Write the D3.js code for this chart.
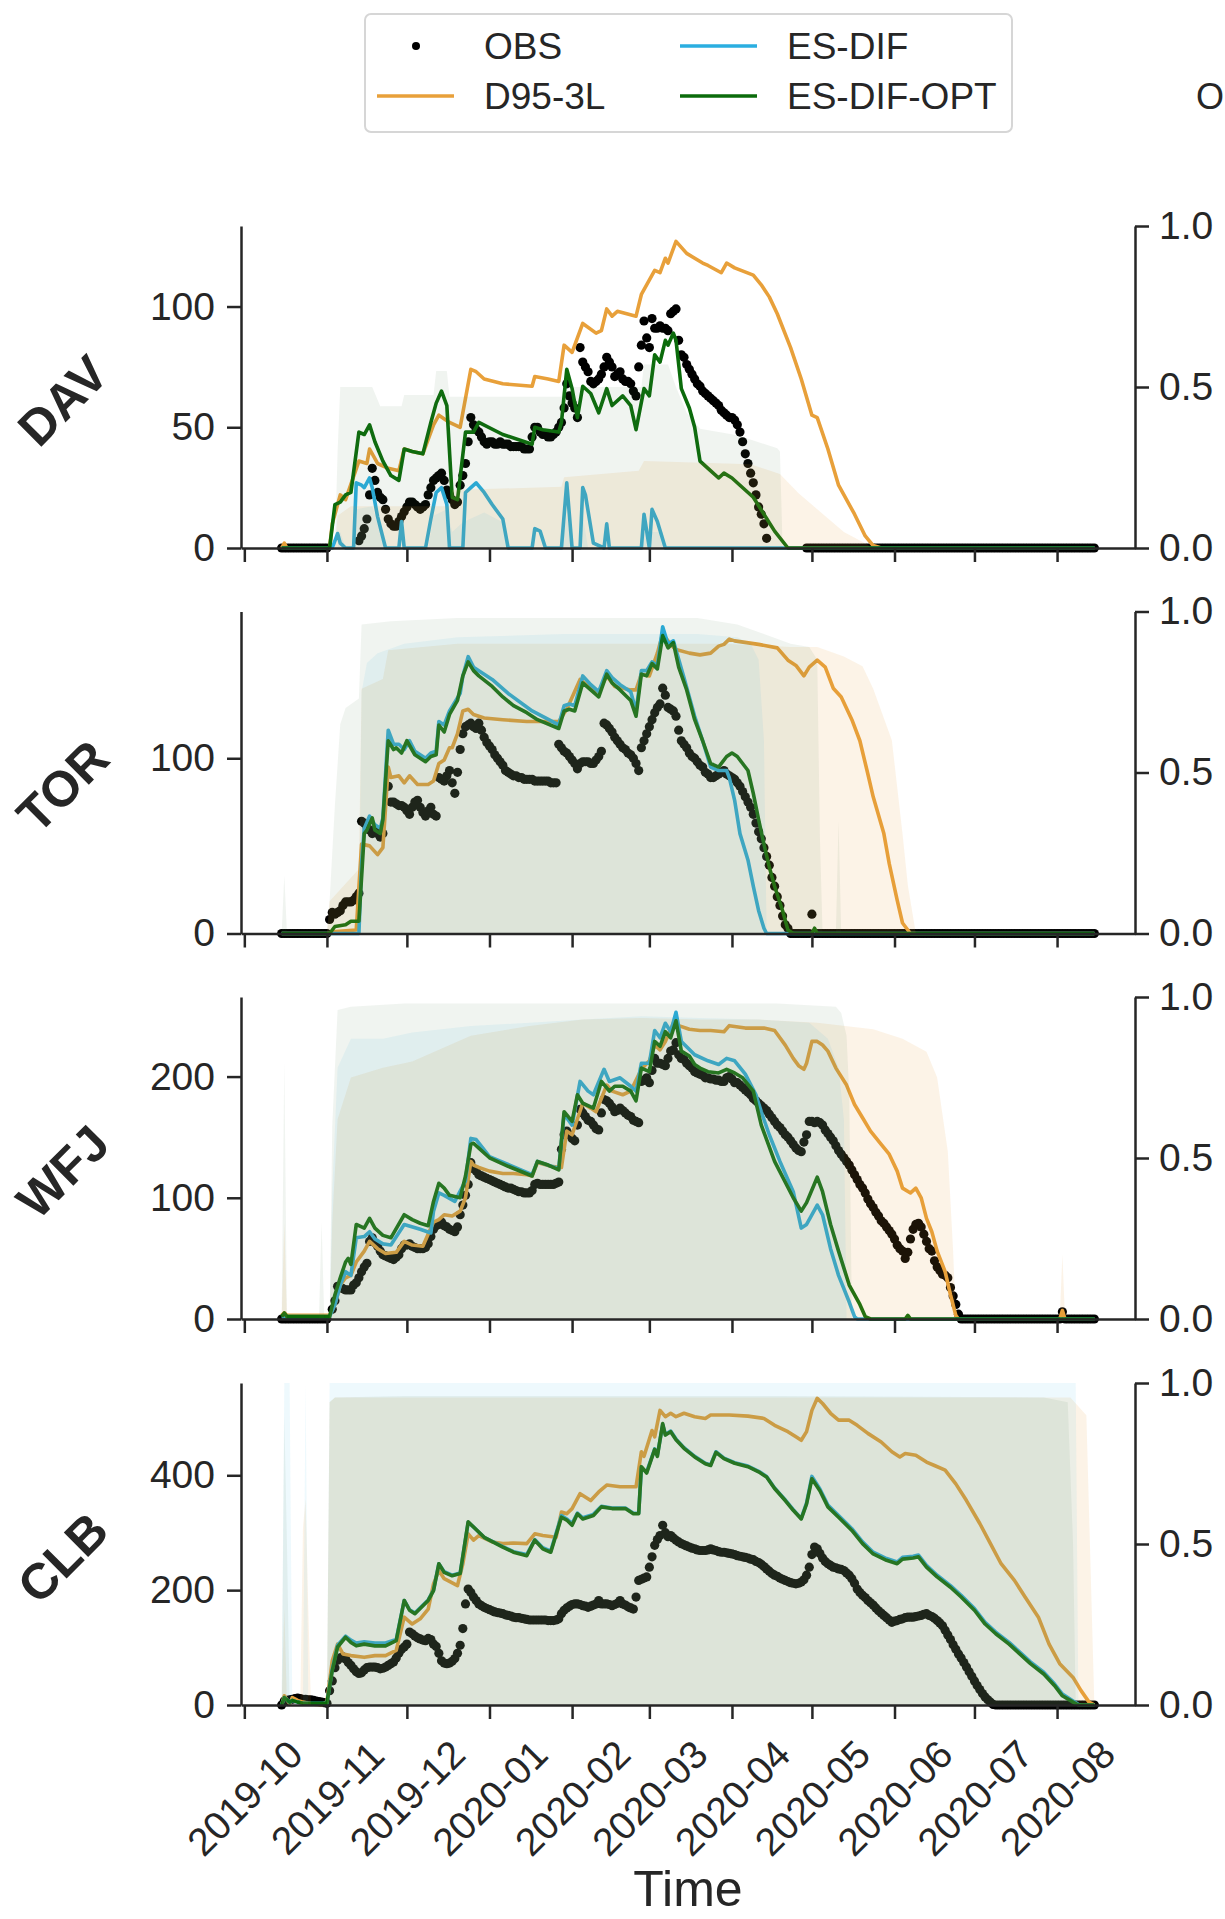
<!DOCTYPE html>
<html>
<head>
<meta charset="utf-8">
<script src="https://cdn.jsdelivr.net/npm/d3@7"></script>
<style>
  body { margin: 0; background: #fff; }
  text { font-family: "Liberation Sans", Arial, Helvetica, sans-serif; fill: #262626; }
</style>
</head>
<body>
<svg id="chart"></svg>
<script>
// ---- data (days counted from 2019-10-01) ----
const MONTHS = ["2019-10", "2019-11", "2019-12", "2020-01", "2020-02", "2020-03",
                "2020-04", "2020-05", "2020-06", "2020-07", "2020-08"];
const STATIONS = ["DAV", "TOR", "WFJ", "CLB"];
const Y_TICKS = [[0, 50, 100], [0, 100], [0, 100, 200], [0, 200, 400]];
const FRAC_TICKS = [0, 0.5, 1];
const OBS_START = 14;   // first observation day (2019-10-15)

// DAV
const DAV_OBS = [
  0,0,0,0,0,0,0,0,0,0,0,0,0,0,0,0,0,0,
  null,null,null,null,null,null,null,null,null,null,null,
  3,5,8,12,22,33,28,23,21,20,16,12,10,9,9,11,13,15,17,19,
  19,18,17,16,17,18,22,25,28,29,30,31,28,24,22,20,18,19,26,30,
  35,44,54,51,49,48,46,44,43,44,44,43,43,44,43,43,43,42,42,42,
  42,42,41,41,41,46,50,50,48,47,47,46,46,47,48,50,52,58,68,63,
  60,58,54,83,77,75,73,69,68,69,70,72,75,79,77,75,71,72,73,70,
  69,69,68,65,63,75,84,94,87,83,95,91,91,92,91,91,90,97,98,99,
  86,80,79,76,74,72,70,68,67,65,64,63,62,61,60,59,57,56,55,54,
  54,53,51,48,44,39,35,31,27,22,17,14,10,4,
  null,null,null,null,null,null,null,null,null,null,null,null,null,null,
  0,0,0,0,0,0,0,0,0,0,0,0,0,0,0,0,0,0,0,0,0,0,0,0,0,0,0,0,0,0,
  0,0,0,0,0,0,0,0,0,0,0,0,0,0,0,0,0,0,0,0,0,0,0,0,0,0,0,0,0,0,
  0,0,0,0,0,0,0,0,0,0,0,0,0,0,0,0,0,0,0,0,0,0,0,0,0,0,0,0,0,0,
  0,0,0,0,0,0,0,0,0,0,0,0,0,0,0,0,0,0,0
];
const DAV_D95 = [[14,0],[15,2],[16,0],[32,0],[33,10],[35,18],[36,22],[38,20],[43,36],[46,35],[47,41],[50,35],[54,33],[58,32],[60,41],[63,40],[67,39],[71,51],[73,55],[77,52],[81,50],[85,74],[87,73],[90,70],[97,68],[108,67],[109,71],[114,70],[118,69],[120,84],[123,81],[127,93],[132,89],[134,90],[136,99],[138,96],[140,98],[147,96],[149,105],[154,115],[156,114],[158,120],[159,118],[162,127],[166,122],[172,118],[174,117],[179,114],[181,118],[184,116],[191,113],[194,109],[197,104],[200,97],[205,83],[209,70],[213,55],[215,54],[219,41],[223,26],[229,14],[233,5],[236,1],[239,0],[319,0]];
const DAV_ESDIF = [[14,0],[33,0],[35,6],[36,2],[38,0],[41,0],[42,27],[44,26],[45,25],[47,29],[48,25],[50,13],[53,0],[58,0],[59,11],[60,0],[68,0],[70,12],[72,23],[74,25],[76,18],[77,0],[82,0],[83,23],[85,25],[87,27],[90,23],[93,18],[97,12],[99,0],[108,0],[109,8],[111,7],[113,0],[119,0],[121,27],[123,0],[126,0],[127,25],[128,22],[131,2],[135,0],[136,10],[137,0],[149,0],[150,14],[152,0],[153,16],[155,11],[158,0],[319,0]];
const DAV_OPT = [[14,0],[32,0],[34,18],[36,19],[38,22],[40,23],[43,48],[45,47],[47,51],[49,44],[52,36],[55,30],[58,28],[60,41],[63,40],[67,39],[70,52],[72,60],[74,65],[76,59],[78,21],[80,20],[83,48],[86,48],[88,52],[97,47],[108,43],[109,50],[112,49],[118,48],[119,52],[121,74],[123,66],[125,54],[127,67],[130,64],[133,56],[136,66],[138,59],[142,63],[145,59],[147,49],[150,66],[152,63],[154,80],[156,77],[158,86],[159,84],[161,89],[162,86],[164,66],[167,58],[169,50],[171,36],[174,33],[178,29],[180,31],[183,29],[186,26],[191,21],[195,14],[199,7],[204,0],[319,0]];
const DAV_FILL_D95 = [[14,0],[34,0],[35,0.1],[40,0.13],[77,0.13],[78,0.18],[119,0.19],[120,0.22],[148,0.24],[150,0.27],[190,0.26],[201,0.23],[208,0.17],[215,0.12],[225,0.05],[234,0.01],[235,0],[319,0]];
const DAV_FILL_ESDIF = [[14,0],[35,0],[36,0.05],[38,0],[41,0],[42,0.12],[48,0.13],[51,0.05],[53,0],[69,0],[71,0.1],[76,0.12],[78,0.05],[82,0.08],[90,0.11],[97,0.08],[100,0],[119,0],[121,0.1],[123,0],[126,0],[127,0.1],[129,0],[149,0],[150,0.05],[157,0.05],[158,0],[319,0]];
const DAV_FILL_OPT = [[14,0],[34,0],[35,0.3],[36,0.5],[48,0.5],[51,0.44],[59,0.44],[60,0.475],[71,0.475],[72,0.55],[76,0.55],[77,0.47],[119,0.47],[120,0.5],[149,0.5],[150,0.57],[159,0.57],[162,0.5],[166,0.42],[171,0.37],[185,0.35],[200,0.31],[201,0.3],[202,0],[319,0]];

// TOR
const TOR_OBS = [
  0,0,0,0,0,0,0,0,0,0,0,0,0,0,0,0,0,0,
  8,12,11,12,13,16,18,18,18,19,21,23,64,63,61,59,57,59,57,55,57,
  null,
  84,75,75,74,73,73,72,70,68,72,75,76,72,69,67,70,72,68,67,89,
  88,87,90,93,86,80,92,105,114,118,119,120,118,117,120,116,112,109,107,105,
  102,100,98,96,93,92,91,90,90,89,89,88,88,88,88,87,87,87,87,87,
  87,86,86,86,
  108,106,104,103,101,99,97,94,97,98,98,98,97,97,99,101,104,120,119,117,
  115,112,110,108,106,105,103,102,100,97,93,106,110,114,118,122,126,129,131,140,
  136,129,128,127,124,116,110,108,106,103,101,100,98,96,95,92,91,89,89,90,
  91,92,93,91,90,89,88,86,84,81,78,75,72,68,63,58,54,49,44,39,
  32,27,21,16,10,5,3,
  0,0,0,0,0,0,0,0,
  11,
  0,0,0,0,0,0,0,0,0,0,0,0,0,0,0,0,0,0,0,0,0,0,0,0,0,0,0,0,0,0,
  0,0,0,0,0,0,0,0,0,0,0,0,0,0,0,0,0,0,0,0,0,0,0,0,0,0,0,0,0,0,
  0,0,0,0,0,0,0,0,0,0,0,0,0,0,0,0,0,0,0,0,0,0,0,0,0,0,0,0,0,0,
  0,0,0,0,0,0,0,0,0,0,0,0,0,0,0,0
];
const TOR_D95 = [[14,0],[32,0],[33,1],[42,2],[44,51],[47,50],[50,45],[52,49],[54,95],[55,89],[58,90],[60,86],[62,90],[65,85],[69,85],[71,87],[73,97],[75,99],[77,106],[78,106],[80,114],[82,127],[84,128],[86,125],[90,123],[97,122],[106,121],[118,121],[121,128],[126,145],[130,140],[133,138],[136,147],[139,141],[145,139],[147,139],[149,148],[152,147],[155,160],[157,171],[160,165],[162,162],[167,160],[171,159],[175,160],[178,164],[180,165],[182,168],[184,167],[193,165],[200,163],[204,156],[207,153],[210,147],[212,152],[215,156],[218,152],[221,140],[224,135],[228,122],[231,110],[234,91],[236,78],[240,57],[242,40],[245,19],[247,6],[250,0],[319,0]];
const TOR_ESDIF = [[14,0],[43,0],[44,40],[45,60],[47,67],[49,62],[51,60],[52,66],[54,116],[56,108],[58,108],[60,105],[62,110],[64,104],[68,100],[70,103],[72,104],[73,121],[75,119],[77,127],[81,137],[82,147],[84,158],[86,152],[93,145],[99,137],[108,127],[118,119],[120,130],[122,131],[124,130],[127,147],[130,142],[133,138],[136,150],[138,146],[141,142],[145,138],[147,127],[149,150],[151,150],[153,155],[155,153],[157,175],[159,165],[161,167],[165,146],[169,124],[172,110],[175,95],[178,93],[181,93],[182,89],[184,76],[186,57],[189,42],[191,27],[193,13],[195,3],[196,0],[319,0]];
const TOR_OPT = [[14,0],[32,0],[33,2],[34,4],[38,5],[40,7],[43,7],[45,57],[46,59],[48,66],[49,59],[51,57],[52,65],[54,110],[56,105],[57,106],[59,103],[61,110],[64,102],[68,98],[70,101],[72,102],[73,119],[75,115],[77,125],[80,133],[82,147],[84,155],[86,150],[88,147],[93,141],[97,135],[101,130],[106,126],[110,122],[118,117],[120,127],[122,128],[124,127],[127,143],[130,139],[133,135],[136,148],[138,143],[141,139],[143,136],[145,133],[147,124],[149,148],[151,147],[153,154],[155,151],[157,170],[159,163],[161,166],[163,152],[166,139],[169,122],[172,110],[175,97],[178,95],[181,101],[183,103],[185,101],[187,97],[189,93],[191,80],[193,65],[195,51],[197,38],[199,27],[202,13],[204,2],[206,0],[213,0],[214,3],[215,0],[319,0]];
const TOR_FILL_D95 = [[14,0],[31,0],[32,0.1],[43,0.2],[44,0.76],[52,0.79],[54,0.88],[80,0.9],[120,0.9],[180,0.9],[205,0.89],[215,0.89],[225,0.86],[232,0.83],[236,0.76],[243,0.6],[247,0.31],[249,0.15],[252,0],[319,0]];
const TOR_FILL_ESDIF = [[14,0],[43,0],[44,0.75],[46,0.84],[50,0.87],[60,0.9],[80,0.92],[120,0.93],[170,0.93],[185,0.92],[190,0.9],[193,0.85],[195,0.6],[196,0],[319,0]];
const TOR_FILL_OPT = [[14,0],[15,0.18],[16,0],[31,0],[32,0.1],[34,0.4],[36,0.65],[38,0.7],[43,0.73],[44,0.96],[55,0.97],[80,0.98],[170,0.98],[185,0.96],[195,0.93],[205,0.9],[212,0.89],[215,0.85],[216,0.3],[217,0],[222,0],[223,0.35],[224,0],[319,0]];

// WFJ
const WFJ_OBS = [
  0,0,0,0,0,0,0,0,0,0,0,0,0,0,0,0,0,0,
  null,
  8,15,27,26,25,24,24,24,28,30,34,39,43,46,
  64,67,63,60,56,53,52,51,50,49,51,53,58,61,61,62,60,59,58,58,
  58,59,62,68,74,77,78,80,77,76,74,73,72,76,86,94,102,111,129,124,
  122,119,118,117,116,115,114,113,112,111,110,109,108,108,107,106,105,105,104,104,
  104,106,111,112,111,111,111,111,111,111,112,113,
  140,152,155,152,149,147,160,173,170,167,164,163,160,157,156,170,181,180,178,175,
  171,172,174,172,170,168,167,164,163,162,196,197,199,195,205,215,211,211,210,209,
  215,221,222,228,218,215,214,211,209,207,204,203,202,201,199,199,198,198,197,197,
  196,196,199,200,198,195,195,193,191,189,187,185,182,180,178,176,174,172,169,166,
  163,160,158,155,152,150,147,144,141,139,138,146,152,163,163,162,163,162,160,156,
  153,150,147,143,139,136,133,130,127,123,119,115,111,108,104,99,95,92,88,85,
  81,79,76,73,70,66,61,58,56,50,55,66,74,78,79,76,70,64,58,56,
  48,43,40,37,36,34,26,19,12,4,
  0,0,0,0,0,0,0,0,0,0,0,0,0,0,0,0,0,0,0,0,0,0,0,0,0,0,0,0,0,0,0,0,0,0,0,0,0,0,
  6,
  0,0,0,0,0,0,0,0,0,0,0,0
];
const WFJ_D95 = [[14,3],[15,5],[16,3],[32,3],[34,12],[36,28],[38,34],[40,36],[42,47],[45,56],[47,64],[50,58],[53,54],[57,55],[60,64],[63,61],[67,60],[71,80],[73,82],[75,86],[78,85],[81,89],[83,100],[85,130],[86,127],[88,125],[92,122],[97,120],[101,120],[106,119],[108,118],[110,129],[115,126],[119,125],[121,155],[123,152],[127,178],[130,174],[132,171],[136,193],[138,188],[142,185],[145,188],[149,206],[152,213],[154,226],[156,222],[158,229],[161,244],[163,242],[167,239],[171,238],[175,238],[180,237],[182,242],[188,240],[195,240],[199,238],[203,226],[206,215],[208,209],[210,206],[211,211],[213,229],[215,229],[217,226],[219,221],[222,207],[226,193],[229,177],[232,166],[235,155],[239,144],[242,136],[245,122],[247,108],[250,104],[252,108],[254,100],[256,83],[258,72],[260,56],[263,39],[265,20],[267,3],[268,0],[306,0],[307,7],[308,0],[319,0]];
const WFJ_ESDIF = [[14,2],[32,2],[34,12],[36,28],[38,39],[40,36],[42,67],[45,68],[47,72],[49,66],[52,62],[55,61],[60,78],[66,74],[70,71],[71,89],[73,104],[75,102],[79,97],[83,114],[85,149],[87,148],[92,134],[108,119],[110,130],[118,124],[120,169],[123,160],[126,196],[129,188],[131,185],[135,206],[137,196],[141,199],[145,192],[147,188],[149,211],[152,211],[154,238],[156,232],[158,244],[160,237],[162,253],[164,229],[169,218],[174,213],[178,210],[181,215],[184,213],[188,202],[192,185],[194,171],[197,152],[201,130],[206,105],[209,75],[211,78],[215,94],[217,86],[220,58],[223,36],[227,14],[229,2],[230,0],[319,0]];
const WFJ_OPT = [[14,2],[15,5],[16,2],[32,2],[34,20],[36,34],[38,47],[39,50],[40,45],[42,78],[45,75],[47,83],[49,75],[52,69],[55,67],[60,86],[63,82],[66,79],[69,77],[71,97],[73,112],[75,108],[77,102],[81,100],[83,118],[85,144],[86,145],[88,141],[92,133],[99,126],[108,118],[110,130],[114,127],[118,123],[120,171],[123,163],[125,185],[127,178],[131,174],[134,196],[137,188],[139,192],[142,192],[145,188],[147,180],[149,207],[152,204],[154,229],[156,225],[158,237],[160,232],[162,246],[164,221],[167,217],[169,210],[171,207],[174,204],[178,203],[181,206],[184,203],[187,199],[191,188],[194,160],[199,130],[206,100],[209,89],[211,96],[215,117],[217,105],[220,78],[223,56],[227,28],[231,12],[233,2],[235,0],[248,0],[249,3],[250,0],[319,0]];
const WFJ_FILL_D95 = [[14,0],[15,0.3],[16,0],[32,0],[33,0.3],[35,0.62],[40,0.75],[52,0.78],[63,0.8],[85,0.88],[107,0.91],[127,0.93],[149,0.935],[171,0.93],[193,0.93],[215,0.92],[236,0.9],[247,0.87],[256,0.83],[260,0.75],[264,0.52],[266,0.21],[267,0],[306,0],[307,0.2],[308,0],[319,0]];
const WFJ_FILL_ESDIF = [[14,0],[32,0],[33,0.4],[35,0.78],[40,0.87],[52,0.87],[63,0.89],[85,0.91],[107,0.92],[127,0.93],[149,0.94],[171,0.935],[193,0.93],[212,0.92],[219,0.87],[223,0.78],[225,0.62],[226,0],[319,0]];
const WFJ_FILL_OPT = [[14,0],[15,0.8],[16,0],[28,0],[29,0.3],[30,0],[32,0],[33,0.6],[35,0.96],[40,0.97],[60,0.98],[200,0.98],[222,0.97],[224,0.95],[226,0.88],[227,0.7],[228,0],[319,0]];

// CLB
const CLB_OBS = [
  0,7,8,9,10,11,12,11,10,10,9,9,8,7,6,5,4,3,
  25,42,65,78,82,84,80,74,69,63,58,55,56,61,65,66,66,66,65,63,
  64,66,69,72,75,82,90,97,101,106,127,124,120,117,115,113,112,116,114,106,
  102,90,77,73,72,73,76,81,90,104,
  133,176,202,196,188,182,176,173,170,168,166,164,162,161,160,159,157,156,155,153,
  152,152,151,150,149,148,148,148,148,148,148,148,
  147,147,147,148,150,159,165,169,172,175,176,176,175,173,172,170,172,174,176,182,
  176,176,176,175,173,175,177,182,176,174,171,169,167,
  188,217,219,221,223,240,258,278,288,295,313,300,293,295,291,287,284,281,279,277,
  275,273,272,270,269,269,269,270,272,270,269,267,266,266,265,264,263,262,260,259,
  258,257,256,254,253,250,248,245,241,237,233,229,226,224,221,219,217,215,213,212,
  211,212,214,218,226,240,262,275,272,264,256,250,246,243,240,239,237,236,234,230,
  226,220,212,202,196,191,187,182,178,174,169,164,160,156,152,148,144,146,147,149,
  150,152,153,153,153,154,155,156,158,159,156,154,151,147,143,138,130,122,114,105,
  97,89,82,74,66,58,50,42,34,27,20,14,9,5,1,
  0,0,0,0,0,0,0,0,0,0,0,0,0,0,0,0,0,0,0,0,0,0,0,0,0,0,0,0,0,0,0,0,0,0,0,0,0,0
];
const CLB_D95 = [[14,0],[15,16],[17,2],[18,13],[20,8],[22,5],[25,2],[29,0],[31,6],[33,77],[35,106],[37,89],[40,86],[45,83],[49,86],[53,86],[57,95],[60,153],[63,141],[66,150],[69,167],[71,211],[73,234],[75,220],[80,208],[82,246],[84,298],[86,287],[88,295],[93,284],[97,281],[101,282],[106,281],[109,298],[112,295],[117,292],[119,336],[121,333],[123,342],[126,368],[130,356],[133,371],[136,383],[141,380],[147,380],[149,441],[150,433],[153,478],[154,467],[156,513],[158,502],[160,508],[162,502],[165,508],[169,502],[173,499],[175,505],[182,505],[189,503],[195,499],[199,487],[204,476],[207,467],[209,461],[211,476],[213,513],[215,534],[217,525],[220,508],[223,496],[227,496],[230,487],[234,473],[239,458],[243,441],[246,432],[248,438],[252,435],[256,423],[259,417],[263,409],[267,385],[271,356],[276,316],[280,281],[284,246],[289,217],[293,188],[298,153],[302,106],[306,72],[311,48],[314,25],[317,5],[319,0]];
const CLB_ESDIF = [[14,0],[15,13],[17,5],[18,8],[20,5],[22,3],[31,3],[33,62],[35,104],[38,120],[40,113],[42,108],[45,110],[49,108],[53,108],[57,114],[60,182],[62,166],[64,160],[69,183],[71,200],[73,246],[75,232],[78,226],[81,230],[84,318],[86,310],[90,292],[97,276],[101,267],[106,262],[109,288],[112,274],[115,268],[119,330],[121,324],[123,316],[125,334],[127,326],[131,332],[134,346],[138,343],[143,343],[146,334],[148,334],[149,412],[151,406],[154,446],[155,435],[157,488],[158,471],[160,477],[162,463],[165,448],[169,433],[173,421],[175,418],[177,441],[180,430],[184,422],[189,416],[193,407],[196,398],[199,378],[203,357],[206,340],[209,325],[211,352],[213,398],[216,376],[219,348],[223,330],[228,307],[232,284],[236,266],[241,255],[245,249],[247,257],[251,259],[253,261],[256,243],[260,226],[265,208],[269,191],[274,168],[278,144],[282,127],[287,109],[291,92],[295,75],[300,57],[304,37],[307,19],[311,7],[313,1],[314,0],[319,0]];
const CLB_OPT = [[14,0],[15,13],[17,5],[18,8],[20,5],[22,3],[31,3],[33,60],[35,101],[38,118],[40,109],[42,103],[45,106],[49,103],[53,103],[57,112],[60,182],[62,165],[64,159],[69,182],[71,199],[73,246],[75,231],[78,225],[81,229],[84,319],[86,310],[90,292],[97,275],[101,266],[106,260],[109,287],[112,272],[115,266],[119,327],[121,322],[123,313],[125,333],[127,324],[131,330],[134,345],[138,342],[143,342],[146,333],[148,333],[149,415],[151,404],[154,445],[155,433],[157,490],[158,470],[160,476],[162,462],[165,447],[169,432],[173,420],[175,417],[177,440],[180,429],[184,421],[189,415],[193,406],[196,397],[199,377],[203,356],[206,339],[209,324],[211,350],[213,394],[216,373],[219,345],[223,327],[228,304],[232,281],[236,263],[241,252],[245,246],[247,254],[251,256],[253,258],[256,240],[260,223],[265,205],[269,188],[274,165],[278,141],[282,124],[287,106],[291,89],[295,72],[300,54],[304,34],[307,16],[311,5],[313,0],[319,0]];
const CLB_FILL_D95 = [[14,0],[15,0.3],[16,0],[21,0],[22,0.55],[23,0.64],[24,0.3],[25,0],[31,0],[32,0.94],[34,0.955],[310,0.955],[316,0.9],[318,0.3],[319,0]];
const CLB_FILL_ESDIF = [[14,0],[15,1],[17,1],[18,0],[22,0],[23,1],[24,0],[31,0],[32,1],[312,1],[313,0],[319,0]];
const CLB_FILL_OPT = [[14,0],[15,0.9],[16,0.5],[17,0],[31,0],[32,0.94],[34,0.955],[60,0.96],[200,0.96],[300,0.955],[309,0.94],[311,0.5],[312,0],[319,0]];

const panels = [
  { name: "DAV", ticks: Y_TICKS[0], obs: DAV_OBS, d95: DAV_D95, esdif: DAV_ESDIF, opt: DAV_OPT, fills: [DAV_FILL_D95, DAV_FILL_ESDIF, DAV_FILL_OPT] },
  { name: "TOR", ticks: Y_TICKS[1], obs: TOR_OBS, d95: TOR_D95, esdif: TOR_ESDIF, opt: TOR_OPT, fills: [TOR_FILL_D95, TOR_FILL_ESDIF, TOR_FILL_OPT] },
  { name: "WFJ", ticks: Y_TICKS[2], obs: WFJ_OBS, d95: WFJ_D95, esdif: WFJ_ESDIF, opt: WFJ_OPT, fills: [WFJ_FILL_D95, WFJ_FILL_ESDIF, WFJ_FILL_OPT] },
  { name: "CLB", ticks: Y_TICKS[3], obs: CLB_OBS, d95: CLB_D95, esdif: CLB_ESDIF, opt: CLB_OPT, fills: [CLB_FILL_D95, CLB_FILL_ESDIF, CLB_FILL_OPT] }
];

// ---- drawing ----
const width = 1225, height = 1919;
const svg = d3.select("#chart").attr("width", width).attr("height", height);

const colors = { obs: "#000", d95: "#e8a03a", esdif: "#2aaee0", opt: "#0b6b0b" };
const fillColors = ["rgba(232,160,58,0.12)", "rgba(42,174,224,0.08)", "rgba(60,110,60,0.08)"];
const axisColor = "#262626";

const plotLeft = 241, plotRight = 1135;
const panelTops = [226, 611.5, 997, 1383];
const panelH = 322;

const day0 = Date.UTC(2019, 9, 1);
const toDate = d => new Date(day0 + d * 864e5);
const tFirst = toDate(14), tLast = toDate(319);
const pad = (tLast - tFirst) * 0.05;
const x = d3.scaleUtc()
    .domain([new Date(+tFirst - pad), new Date(+tLast + pad)])
    .range([plotLeft, plotRight]);
const monthDates = MONTHS.map(m => new Date(Date.UTC(+m.slice(0, 4), +m.slice(5) - 1, 1)));

function styleAxis(g) {
    g.select(".domain").attr("stroke", axisColor).attr("stroke-width", 2.5);
    g.selectAll(".tick line").attr("stroke", axisColor).attr("stroke-width", 2.5);
    g.selectAll(".tick text").attr("fill", axisColor).style("font-size", "39px")
        .style("font-family", '"Liberation Sans", Arial, sans-serif');
}

panels.forEach((p, i) => {
    const top = panelTops[i], bottom = top + panelH;
    const allVals = [...p.obs.filter(v => v !== null), ...p.d95.map(d => d[1]),
                     ...p.esdif.map(d => d[1]), ...p.opt.map(d => d[1])];
    const y = d3.scaleLinear().domain([0, d3.max(allVals) * 1.05]).range([bottom, top]);
    const yFrac = d3.scaleLinear().domain([0, 1]).range([bottom, top]);

    const g = svg.append("g");

    // observations
    const obsPts = p.obs.map((v, k) => [OBS_START + k, v]).filter(d => d[1] !== null);
    g.append("g").selectAll("circle")
        .data(obsPts)
        .join("circle")
        .attr("cx", d => x(toDate(d[0])))
        .attr("cy", d => y(d[1]))
        .attr("r", 4.6)
        .attr("fill", colors.obs);

    // model lines
    const line = d3.line().x(d => x(toDate(d[0]))).y(d => y(d[1]));
    [["d95", p.d95], ["esdif", p.esdif], ["opt", p.opt]].forEach(([key, data]) => {
        g.append("path")
            .datum(data)
            .attr("fill", "none")
            .attr("stroke", colors[key])
            .attr("stroke-width", 3.6)
            .attr("stroke-linejoin", "round")
            .attr("d", line);
    });

    // fractions on the twin axis, drawn over the lines
    const area = d3.area().x(d => x(toDate(d[0]))).y0(yFrac(0)).y1(d => yFrac(d[1]));
    p.fills.forEach((data, k) => {
        g.append("path").datum(data).attr("fill", fillColors[k]).attr("d", area);
    });

    // axes
    const left = svg.append("g").attr("transform", `translate(${plotLeft},0)`)
        .call(d3.axisLeft(y).tickValues(p.ticks).tickSize(14).tickSizeOuter(0).tickPadding(12));
    styleAxis(left);

    const right = svg.append("g").attr("transform", `translate(${plotRight},0)`)
        .call(d3.axisRight(yFrac).tickValues(FRAC_TICKS).tickFormat(d3.format(".1f"))
            .tickSize(14).tickSizeOuter(0).tickPadding(10));
    styleAxis(right);

    const isLast = i === panels.length - 1;
    const bottomAxis = svg.append("g").attr("transform", `translate(0,${bottom})`)
        .call(d3.axisBottom(x).tickValues(monthDates).tickSize(14).tickSizeOuter(0)
            .tickFormat((d, k) => isLast ? MONTHS[k] : ""));
    styleAxis(bottomAxis);
    if (isLast) {
        bottomAxis.selectAll(".tick text")
            .attr("y", 0).attr("dy", null)
            .attr("text-anchor", "middle")
            .attr("dominant-baseline", "central")
            .attr("transform", "translate(0,93) rotate(-45)");
    }

    // station label
    svg.append("text")
        .attr("transform", `translate(63,${top + panelH / 2 + 14}) rotate(-45)`)
        .attr("text-anchor", "middle")
        .attr("dominant-baseline", "central")
        .style("font-size", "50px")
        .style("font-weight", "bold")
        .text(p.name);
});

// x label
svg.append("text")
    .attr("x", (plotLeft + plotRight) / 2)
    .attr("y", 1906)
    .attr("text-anchor", "middle")
    .style("font-size", "50px")
    .text("Time");

// legend
const legend = svg.append("g");
legend.append("rect")
    .attr("x", 365).attr("y", 14).attr("width", 647).attr("height", 118).attr("rx", 6)
    .attr("fill", "#fff").attr("stroke", "#d6d6d6").attr("stroke-width", 2);
const legendItems = [
    { label: "OBS", key: "obs", x: 377, y: 46 },
    { label: "D95-3L", key: "d95", x: 377, y: 96 },
    { label: "ES-DIF", key: "esdif", x: 680, y: 46 },
    { label: "ES-DIF-OPT", key: "opt", x: 680, y: 96 }
];
legendItems.forEach(it => {
    if (it.key === "obs") {
        legend.append("circle").attr("cx", it.x + 39).attr("cy", it.y).attr("r", 4).attr("fill", colors.obs);
    } else {
        legend.append("line").attr("x1", it.x).attr("x2", it.x + 77).attr("y1", it.y).attr("y2", it.y)
            .attr("stroke", colors[it.key]).attr("stroke-width", 3.5);
    }
    legend.append("text").attr("x", it.x + 107).attr("y", it.y + 13)
        .style("font-size", "37px").text(it.label);
});

// start of a second legend at the right edge
svg.append("text").attr("x", 1196).attr("y", 109).style("font-size", "36px").text("O");
</script>
</body>
</html>
